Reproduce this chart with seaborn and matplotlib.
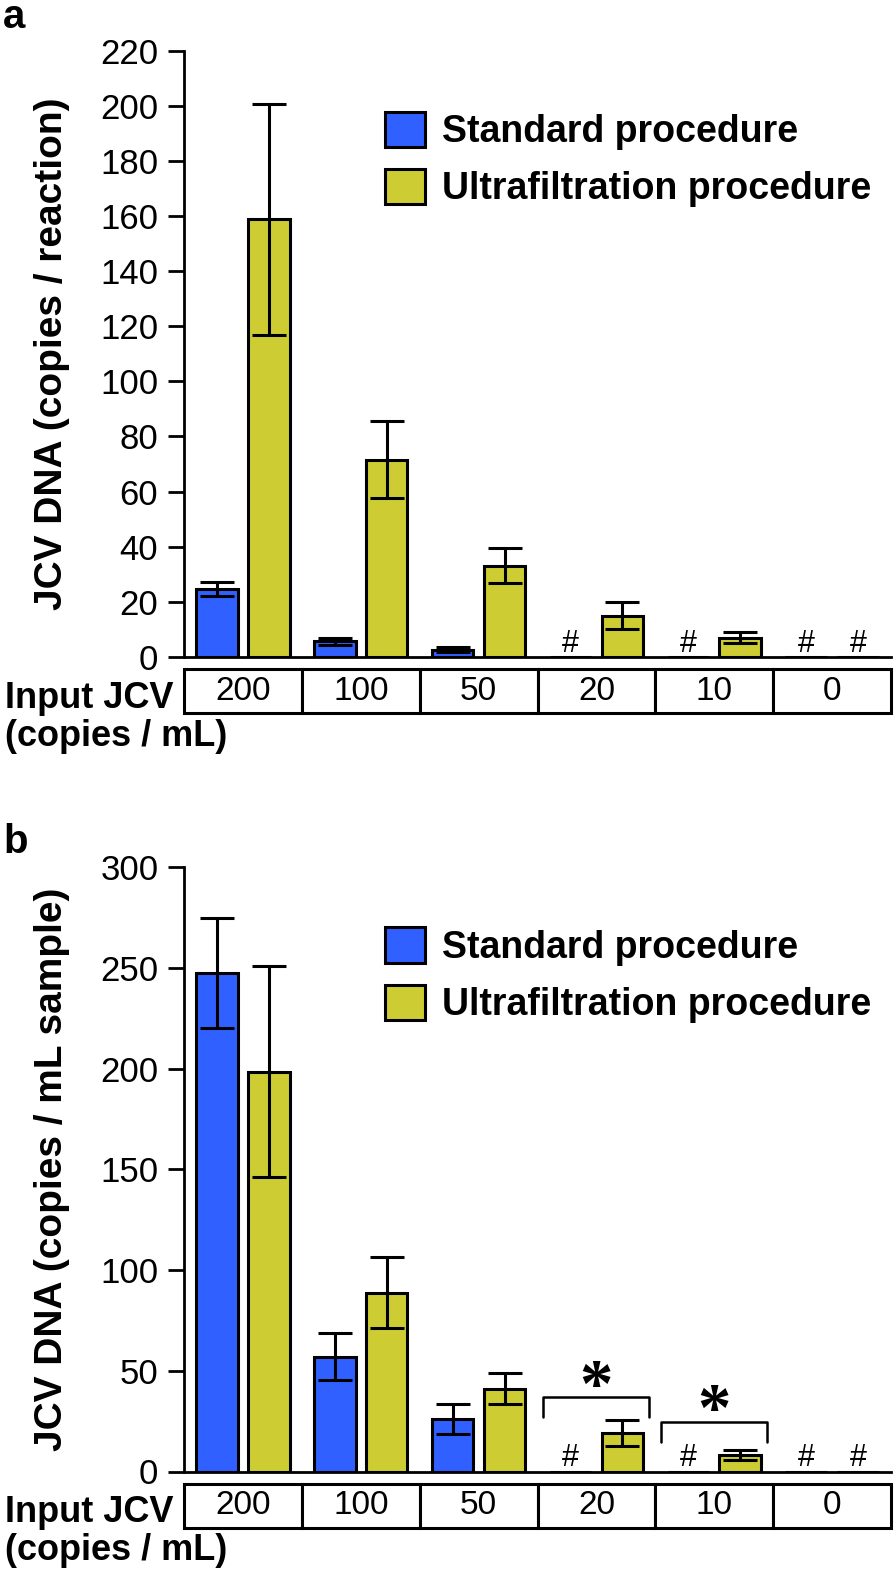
import matplotlib
matplotlib.use("Agg")
import matplotlib.pyplot as plt
import seaborn as sns
import pandas as pd

sns.set_style("ticks")
plt.rcParams["font.family"] = ["Liberation Sans", "DejaVu Sans"]
for key in ["text.color", "axes.labelcolor", "xtick.color", "ytick.color", "axes.edgecolor"]:
    plt.rcParams[key] = "black"

groups = ["200", "100", "50", "20", "10", "0"]
procedures = ["Standard procedure", "Ultrafiltration procedure"]
colors = ["#3060FF", "#CDCD33"]

# panel a: copies / reaction (mean, SD)
a_std = [24.6, 5.6, 2.6, 0, 0, 0]
a_std_err = [2.6, 1.2, 0.9, 0, 0, 0]
a_uf = [158.9, 71.6, 33.0, 14.9, 6.8, 0]
a_uf_err = [42.0, 14.0, 6.4, 4.8, 2.0, 0]

# panel b: copies / mL sample (mean, SD)
b_std = [247.4, 57.0, 26.1, 0, 0, 0]
b_std_err = [27.5, 11.6, 7.3, 0, 0, 0]
b_uf = [198.5, 88.8, 41.1, 19.1, 8.3, 0]
b_uf_err = [52.5, 17.6, 7.8, 6.3, 2.4, 0]


def draw_panel(ax, std, std_err, uf, uf_err, ymax, ystep, ylabel):
    df = pd.DataFrame({
        "group": groups * 2,
        "value": std + uf,
        "procedure": [procedures[0]] * len(groups) + [procedures[1]] * len(groups),
    })
    sns.barplot(data=df, x="group", y="value", hue="procedure", order=groups,
                hue_order=procedures, palette=colors, saturation=1, width=0.88,
                gap=0.2, errorbar=None, edgecolor="black", linewidth=2.2, ax=ax)

    # error bars / "#" marks at the bar centres
    for cont, vals, errs in zip(ax.containers, [std, uf], [std_err, uf_err]):
        bars = sorted(cont.patches, key=lambda p: p.get_x())
        for p, v, e in zip(bars, vals, errs):
            xc = p.get_x() + p.get_width() / 2
            if v > 0:
                ax.errorbar(xc, v, yerr=e, color="black", elinewidth=2.2,
                            capsize=12, capthick=2.2, zorder=5)
            else:
                ax.annotate("#", (xc, 0), xytext=(0, 3.6), textcoords="offset points",
                            ha="center", va="baseline", fontsize=22)

    ax.set_xlim(-0.5, 5.5)
    ax.set_ylim(0, ymax)
    ax.set_yticks(range(0, ymax + 1, ystep))
    ax.tick_params(axis="y", length=11.5, width=2, labelsize=25, pad=7, direction="out")
    ax.tick_params(axis="x", bottom=False, labelbottom=False)
    ax.set_xlabel("")
    ax.set_ylabel(ylabel, fontsize=28, fontweight="bold")
    ax.yaxis.set_label_coords(-0.161, 0.5)
    for s in ["top", "right"]:
        ax.spines[s].set_visible(False)
    for s in ["left", "bottom"]:
        ax.spines[s].set_linewidth(2)

    table = ax.table(cellText=[groups], cellLoc="center", bbox=[0, -0.0935, 1, 0.073])
    table.auto_set_font_size(False)
    table.set_fontsize(24)
    for cell in table.get_celld().values():
        cell.set_linewidth(2.2)

    old = ax.get_legend()
    handles = old.legend_handles
    labels = [t.get_text() for t in old.get_texts()]
    old.remove()
    for h in handles:
        h.set_edgecolor("black")
        h.set_linewidth(2.2)
    ax.legend(handles, labels, loc="upper left", bbox_to_anchor=(0.284, 0.90),
              frameon=False, prop={"size": 27, "weight": "bold"},
              handlelength=1.07, handleheight=1.07, handletextpad=0.45,
              labelspacing=0.5, borderaxespad=0, borderpad=0)


fig = plt.figure(figsize=(8.96, 15.71), dpi=100)
ax_a = fig.add_axes([184 / 896, 1 - 656.7 / 1571, 707 / 896, 605.7 / 1571])
ax_b = fig.add_axes([184 / 896, 1 - 1471.5 / 1571, 707 / 896, 604.5 / 1571])

draw_panel(ax_a, a_std, a_std_err, a_uf, a_uf_err, 220, 20, "JCV DNA (copies / reaction)")
draw_panel(ax_b, b_std, b_std_err, b_uf, b_uf_err, 300, 50, "JCV DNA (copies / mL sample)")

# significance brackets in panel b
for xc, top, star in [(3, 37.1, 46.4), (4, 24.7, 34.7)]:
    ax_b.plot([xc - 0.45, xc - 0.45, xc + 0.45, xc + 0.45],
              [top - 9.9, top, top, top - 9.9], color="black", lw=1.8)
    ax_b.annotate("*", (xc, star), xytext=(0, -19.5), textcoords="offset points",
                  ha="center", va="baseline", fontsize=48, fontweight="bold",
                  family="Liberation Serif")

for y_base, letter in [(28, "a"), (853, "b")]:
    fig.text(3 / 896, 1 - y_base / 1571, letter, fontsize=29, fontweight="bold",
             ha="left", va="baseline")

for y0 in [708, 1522]:
    fig.text(5 / 896, 1 - y0 / 1571, "Input JCV", fontsize=26, fontweight="bold",
             ha="left", va="baseline")
    fig.text(5 / 896, 1 - (y0 + 38) / 1571, "(copies / mL)", fontsize=26,
             fontweight="bold", ha="left", va="baseline")

fig.savefig("out.png", dpi=100)
